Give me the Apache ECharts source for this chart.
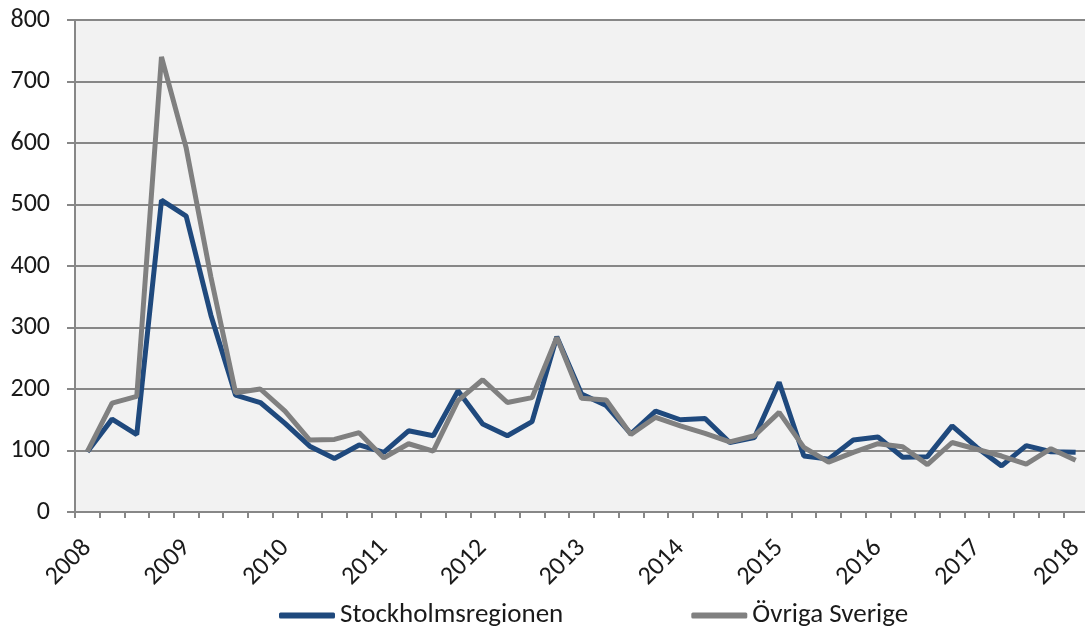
<!DOCTYPE html>
<html>
<head>
<meta charset="utf-8">
<script src="https://cdn.jsdelivr.net/npm/echarts@6/dist/echarts.min.js"></script>
<style>
html, body { margin: 0; padding: 0; background: #fff; }
#chart { width: 1085px; height: 628px; }
</style>
</head>
<body>
<div id="chart"></div>
<script>
// kvartal 2008 K1 .. 2018 K1
var quarters = [
  '2008', '2008 K2', '2008 K3', '2008 K4',
  '2009', '2009 K2', '2009 K3', '2009 K4',
  '2010', '2010 K2', '2010 K3', '2010 K4',
  '2011', '2011 K2', '2011 K3', '2011 K4',
  '2012', '2012 K2', '2012 K3', '2012 K4',
  '2013', '2013 K2', '2013 K3', '2013 K4',
  '2014', '2014 K2', '2014 K3', '2014 K4',
  '2015', '2015 K2', '2015 K3', '2015 K4',
  '2016', '2016 K2', '2016 K3', '2016 K4',
  '2017', '2017 K2', '2017 K3', '2017 K4',
  '2018'
];
var stockholm = [
  98, 151, 126, 507, 481, 320, 190, 178, 144, 107, 87, 109,
  97, 132, 124, 197, 143, 124, 147, 285, 192, 173, 127, 164,
  150, 152, 113, 121, 211, 91, 86, 117, 122, 89, 90, 140,
  105, 75, 108, 98, 97
];
var ovriga = [
  98, 177, 188, 740, 592, 382, 194, 200, 164, 117, 118, 129,
  88, 111, 99, 181, 215, 178, 186, 284, 185, 182, 126, 154,
  140, 128, 114, 124, 162, 105, 81, 97, 111, 106, 77, 113,
  102, 91, 78, 103, 84
];
var seriesNames = ['Stockholmsregionen', 'Övriga Sverige'];

var font = 'Carlito, "Liberation Sans", Arial, sans-serif';
var gridColor = '#878787';

var chart = echarts.init(document.getElementById('chart'));
chart.setOption({
  animation: false,
  textStyle: { fontFamily: font },
  grid: {
    left: 75, top: 20, width: 1013, height: 492,
    show: true, backgroundColor: '#f2f2f2', borderWidth: 0,
    outerBoundsMode: 'none'
  },
  legend: {
    data: seriesNames,
    left: 274, top: 597,
    itemGap: 128,
    itemWidth: 56, itemHeight: 6,
    icon: 'roundRect',
    textStyle: { fontFamily: font, fontSize: 27, color: '#1a1a1a' }
  },
  xAxis: {
    type: 'category',
    data: quarters,
    boundaryGap: true,
    axisLine: { lineStyle: { color: gridColor, width: 2 } },
    axisTick: { show: true, interval: 0, length: 6, lineStyle: { color: gridColor, width: 2 } },
    axisLabel: {
      interval: 3,
      rotate: 45,
      margin: 32,
      fontSize: 26,
      fontFamily: font,
      color: '#1a1a1a',
      formatter: function (v) { return v.slice(0, 4); }
    },
    splitLine: { show: false }
  },
  yAxis: {
    type: 'value',
    min: 0, max: 800, interval: 100,
    axisLine: { show: true, lineStyle: { color: gridColor, width: 2 } },
    axisTick: { show: true, length: 8, lineStyle: { color: gridColor, width: 2 } },
    axisLabel: { fontSize: 26, fontFamily: font, color: '#1a1a1a', margin: 25 },
    splitLine: { lineStyle: { color: gridColor, width: 2 } }
  },
  series: [
    {
      name: seriesNames[0], type: 'line', data: stockholm,
      symbol: 'none',
      itemStyle: { color: '#1f497d' },
      lineStyle: { color: '#1f497d', width: 5 }
    },
    {
      name: seriesNames[1], type: 'line', data: ovriga,
      symbol: 'none',
      itemStyle: { color: '#808080' },
      lineStyle: { color: '#808080', width: 5 }
    }
  ]
});
</script>
</body>
</html>
